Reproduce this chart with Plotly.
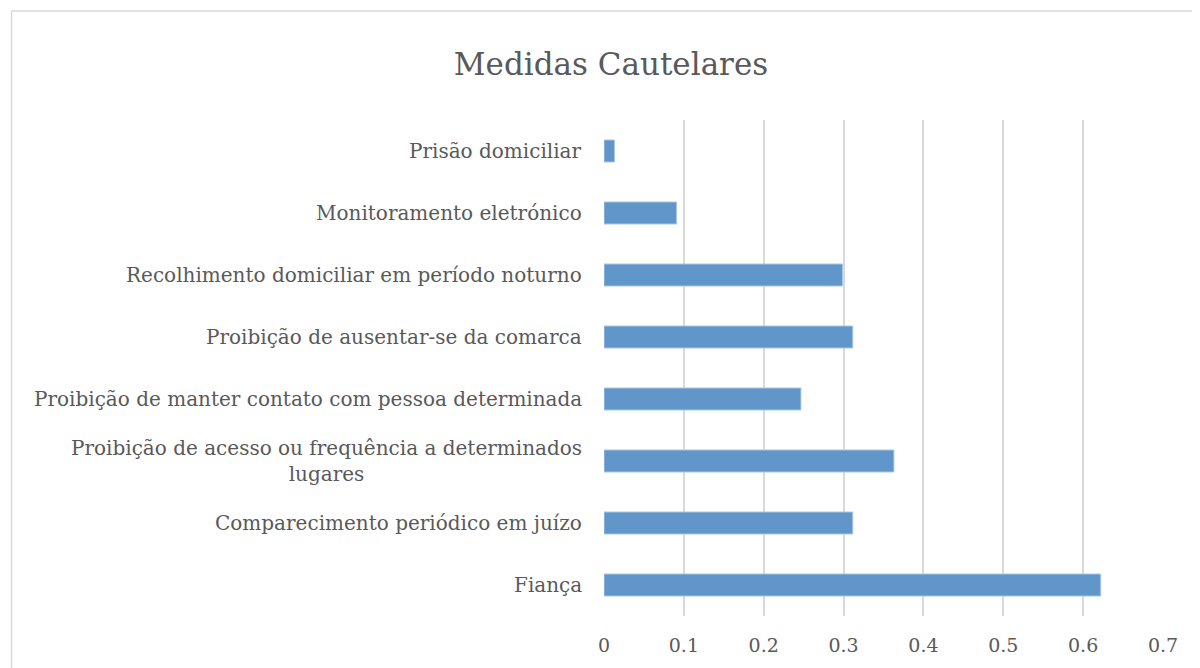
import plotly.graph_objects as go

categories = [
    "Fiança",
    "Comparecimento periódico em juízo",
    "Proibição de acesso ou frequência a determinados<br>lugares",
    "Proibição de manter contato com pessoa determinada",
    "Proibição de ausentar-se da comarca",
    "Recolhimento domiciliar em período noturno",
    "Monitoramento eletrónico",
    "Prisão domiciliar",
]
values = [0.622, 0.3115, 0.363, 0.2466, 0.3115, 0.2986, 0.0909, 0.0131]
tick_vals = [0, 0.1, 0.2, 0.3, 0.4, 0.5, 0.6, 0.7]
tick_text = ["0", "0.1", "0.2", "0.3", "0.4", "0.5", "0.6", "0.7"]
title_text = "Medidas Cautelares"

FONT = "DejaVu Serif"
GRAY = "#595959"

fig = go.Figure()
fig.add_trace(go.Bar(
    y=categories, x=values, orientation="h",
    marker=dict(color="#6096C9", line=dict(color="#A9C6E6", width=1)),
    hoverinfo="x+y",
))

annotations = []
for c in categories:
    annotations.append(dict(
        x=0, xref="paper", y=c, yref="y", text=c, showarrow=False,
        xanchor="right", yanchor="middle", align="center", xshift=-20,
        font=dict(family=FONT, size=20, color=GRAY),
    ))

OFF = 8  # page body offset
W, H = 1200 - OFF, 668 - OFF
L, R, T, B = 603.5 - OFF, 36.5, 120 - OFF, 52
pw = W - L - R
ph = H - T - B
x_left = (10 - OFF - L) / pw
y_top = 1 + (T - (11 - OFF)) / ph

shapes = [
    dict(type="line", xref="paper", yref="paper", x0=x_left, x1=1 + (R + 5) / pw,
         y0=y_top, y1=y_top, line=dict(color="#D9D9D9", width=1.5)),
    dict(type="line", xref="paper", yref="paper", x0=x_left, x1=x_left,
         y0=y_top, y1=-(B + 5) / ph, line=dict(color="#D9D9D9", width=1.5)),
]

fig.update_layout(
    width=W, height=H,
    margin=dict(l=L, r=R, t=T, b=B, pad=0),
    paper_bgcolor="white", plot_bgcolor="white",
    title=dict(text=title_text, x=(611 - OFF) / W, xanchor="center",
               y=1 - (64 - OFF) / H, yanchor="middle",
               font=dict(family=FONT, size=31, color=GRAY)),
    bargap=0.645,
    showlegend=False,
    annotations=annotations,
    shapes=shapes,
    xaxis=dict(range=[0, 0.7], tickvals=tick_vals, ticktext=tick_text,
               showgrid=True, gridcolor="#D9D9D9", gridwidth=1.5,
               zeroline=False, showline=False, ticks="",
               ticklabelstandoff=16,
               tickfont=dict(family=FONT, size=19, color=GRAY)),
    yaxis=dict(showticklabels=False, showgrid=False, zeroline=False, showline=False,
               categoryorder="array", categoryarray=categories),
)

fig.write_html("out.html")
